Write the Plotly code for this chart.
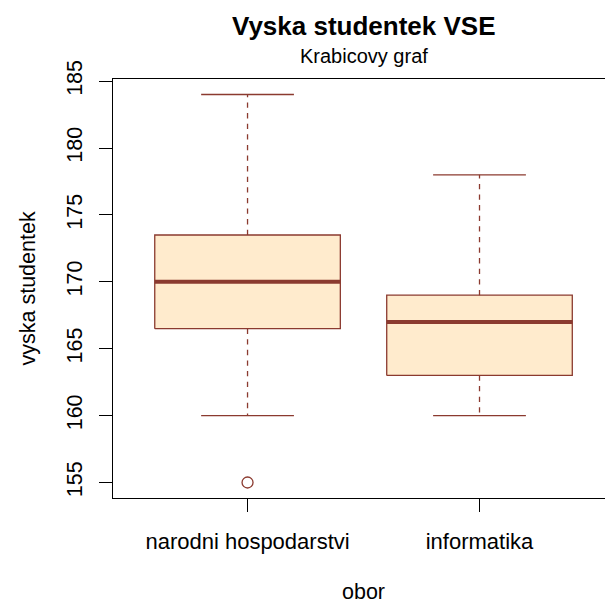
import plotly.graph_objects as go

groups = ["narodni hospodarstvi", "informatika"]
lower_whisker = [160, 160]
q1 = [166.5, 163]
median = [170, 167]
q3 = [173.5, 169]
upper_whisker = [184, 178]
outliers = [[155], []]
y_ticks = [155, 160, 165, 170, 175, 180, 185]

BORDER = "#8B3A2F"
FILL = "#FFEBCD"
FONT = "Liberation Sans"
BOXW = 0.4
CAPW = 0.2

fig = go.Figure()
for i, name in enumerate(groups):
    xc = i + 1
    # box
    fig.add_trace(go.Scatter(
        x=[xc - BOXW, xc + BOXW, xc + BOXW, xc - BOXW, xc - BOXW],
        y=[q1[i], q1[i], q3[i], q3[i], q1[i]],
        mode="lines", fill="toself", fillcolor=FILL,
        line=dict(color=BORDER, width=1.3), hoverinfo="skip", showlegend=False))
    # whiskers
    fig.add_trace(go.Scatter(
        x=[xc, xc, None, xc, xc],
        y=[q3[i], upper_whisker[i], None, q1[i], lower_whisker[i]],
        mode="lines", line=dict(color=BORDER, width=1.3, dash="5.3px,5.3px"),
        hoverinfo="skip", showlegend=False))
    # caps
    fig.add_trace(go.Scatter(
        x=[xc - CAPW, xc + CAPW, None, xc - CAPW, xc + CAPW],
        y=[upper_whisker[i], upper_whisker[i], None, lower_whisker[i], lower_whisker[i]],
        mode="lines", line=dict(color=BORDER, width=1.3),
        hoverinfo="skip", showlegend=False))
    # median
    fig.add_trace(go.Scatter(
        x=[xc - BOXW, xc + BOXW], y=[median[i], median[i]],
        mode="lines", line=dict(color=BORDER, width=4),
        hoverinfo="skip", showlegend=False))
    # outliers
    if outliers[i]:
        fig.add_trace(go.Scatter(
            x=[xc] * len(outliers[i]), y=outliers[i], mode="markers",
            marker=dict(symbol="circle-open", size=11, color=BORDER,
                        line=dict(width=1.3, color=BORDER)),
            hoverinfo="skip", showlegend=False))

fig.update_layout(
    width=605, height=603, autosize=False,
    margin=dict(l=113, r=0, t=79, b=105, pad=0),
    plot_bgcolor="white", paper_bgcolor="white",
    font=dict(family=FONT, color="black", size=21),
    xaxis=dict(range=[0.42, 2.541], tickvals=[1, 2], ticktext=groups,
               showgrid=False, zeroline=False, showline=True, mirror=True,
               linecolor="black", linewidth=1.3, ticks="outside", ticklen=13,
               tickwidth=1.3, tickcolor="black",
               tickfont=dict(family=FONT, size=22), ticklabelstandoff=10),
    yaxis=dict(range=[153.84, 185.16], tickvals=y_ticks,
               ticktext=[str(v) for v in y_ticks],
               showgrid=False, zeroline=False, showline=True, mirror=False,
               linecolor="black", linewidth=1.3, ticks="outside", ticklen=13,
               tickwidth=1.3, tickcolor="black", tickangle=-90,
               tickfont=dict(family=FONT, size=21.5), ticklabelstandoff=8),
    annotations=[
        dict(text="<b>Vyska studentek VSE</b>", xref="x", yref="paper", x=1.5, y=1,
             xanchor="center", yanchor="middle", yshift=53, showarrow=False,
             font=dict(family=FONT, size=26)),
        dict(text="Krabicovy graf", xref="x", yref="paper", x=1.5, y=1,
             xanchor="center", yanchor="middle", yshift=23, showarrow=False,
             font=dict(family=FONT, size=20)),
        dict(text="obor", xref="x", yref="paper", x=1.5, y=0,
             xanchor="center", yanchor="middle", yshift=-94, showarrow=False,
             font=dict(family=FONT, size=21.5)),
        dict(text="vyska studentek", xref="paper", yref="paper", x=0, y=0.5,
             xanchor="center", yanchor="middle", xshift=-86, textangle=-90,
             showarrow=False, font=dict(family=FONT, size=21.5)),
    ],
)

fig.write_html("out.html", config={"displayModeBar": False},
               post_script="document.body.style.margin='0';document.body.style.padding='0';")
